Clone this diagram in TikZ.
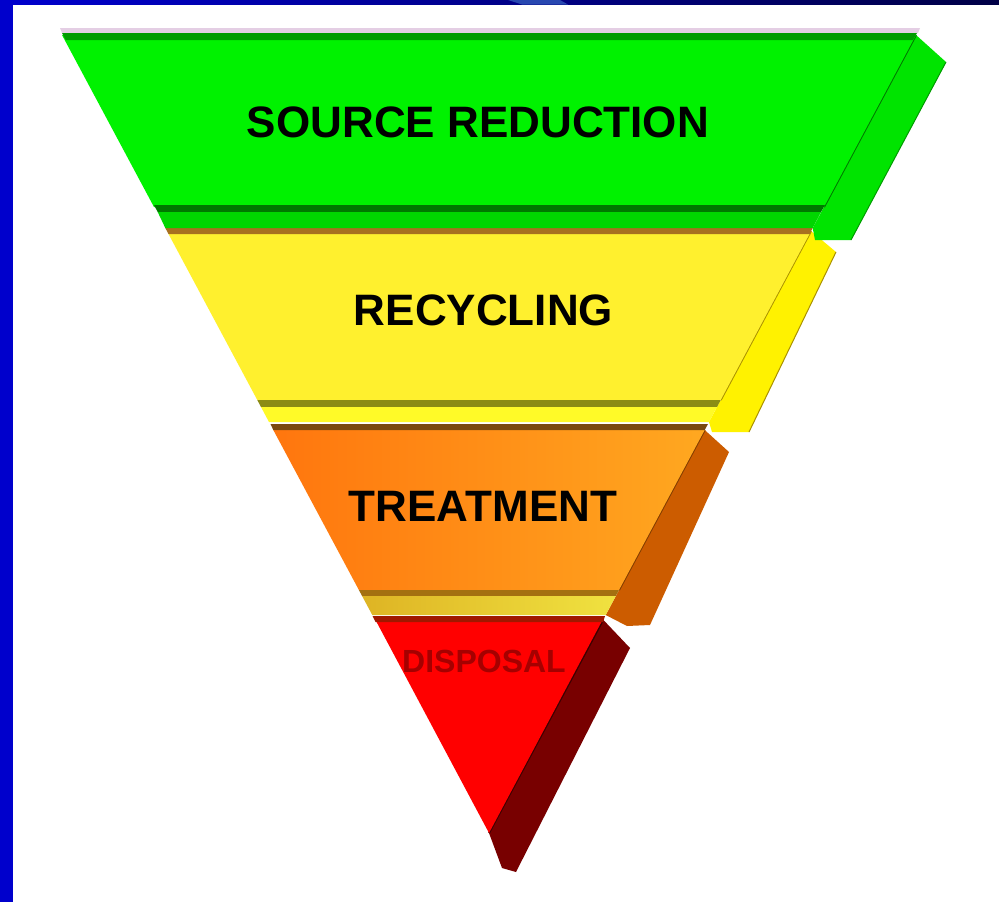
\documentclass[tikz,border=0pt]{standalone}
\usepackage{fontspec}
\setmainfont{Liberation Sans}
\begin{document}
\begin{tikzpicture}[x=1pt,y=-1pt,
  lbl/.style={inner sep=0pt,font=\fontsize{44}{50}\selectfont\bfseries,text=black},
  edge/.style={line width=2pt}]
\definecolor{bordblue}{RGB}{0,0,204}
\definecolor{navy}{RGB}{0,0,70}
\definecolor{blob}{RGB}{40,72,176}
\definecolor{gface}{RGB}{0,242,0}
\definecolor{gdark}{RGB}{0,120,0}
\definecolor{gmid}{RGB}{0,155,0}
\definecolor{gstrip}{RGB}{0,214,0}
\definecolor{gside}{RGB}{0,228,0}
\definecolor{lav}{RGB}{228,206,228}
\definecolor{yface}{RGB}{255,240,46}
\definecolor{yside}{RGB}{255,242,0}
\definecolor{ybrown}{RGB}{168,112,32}
\definecolor{yolive}{RGB}{140,140,20}
\definecolor{ystrip}{RGB}{255,250,40}
\definecolor{yedge}{RGB}{170,145,0}
\definecolor{oface1}{RGB}{255,118,14}
\definecolor{oface2}{RGB}{255,168,32}
\definecolor{oside}{RGB}{204,92,0}
\definecolor{obrown}{RGB}{122,74,16}
\definecolor{obrown2}{RGB}{164,112,16}
\definecolor{ostrip1}{RGB}{222,180,36}
\definecolor{ostrip2}{RGB}{240,226,64}
\definecolor{oedge}{RGB}{130,60,0}
\definecolor{rface}{RGB}{255,0,0}
\definecolor{rline}{RGB}{160,24,0}
\definecolor{rside}{RGB}{120,0,0}
\definecolor{redge}{RGB}{60,0,0}
\definecolor{rtext}{RGB}{165,0,0}
% canvas
\useasboundingbox (0,0) rectangle (999,902);
\fill[white] (0,0) rectangle (999,902);
\fill[bordblue] (0,0) rectangle (13,902);
\shade[left color=bordblue,right color=navy] (13,0) rectangle (999,4.5);
\fill[blob] (508,0) -- (560,0) -- (568,4.5) -- (522,4.5) -- cycle;
% ---------- DISPOSAL (red) ----------
\fill[rside] (602.5,619) -- (630,648) -- (516,872) -- (502,868) -- (489,833) -- cycle;
\draw[redge,edge] (602.5,621) -- (489,833);
\fill[rface] (375.5,620) -- (602.5,620) -- (489,833) -- cycle;
\fill[rline] (372.5,616) -- (605,616) -- (603,622) -- (375.5,622) -- cycle;
\node[inner sep=0pt,font=\fontsize{32}{36}\selectfont\bfseries,text=rtext] (disp) at (484,661) {DISPOSAL};
% ---------- TREATMENT (orange) ----------
\fill[oside] (704.7,430) -- (729,452) -- (650,625) -- (627,626) -- (605.7,615) -- cycle;
\draw[oedge,edge] (704.7,430) -- (619,590);
\shade[left color=oface1,right color=oface2] (273.3,430) -- (704.7,430) -- (619,590) -- (358.9,590) -- cycle;
\fill[obrown] (270.5,424) -- (708,424) -- (704.7,430) -- (273.3,430) -- cycle;
\fill[obrown2] (358.9,590) -- (619,590) -- (615.8,596) -- (362.1,596) -- cycle;
\shade[left color=ostrip1,right color=ostrip2] (362.1,596) -- (615.8,596) -- (605.7,615) -- (372.3,615) -- cycle;
\node[lbl] (treat) at (483,506) {TREATMENT};
% ---------- RECYCLING (yellow) ----------
\fill[yside] (811,231) -- (836,252) -- (749,432) -- (712,432) -- (709,422) -- cycle;
\draw[yedge,edge] (811,231) -- (720.7,400);
\draw[yedge,line width=1pt] (836,252) -- (749,432);
\fill[yface] (168.5,234) -- (809.5,234) -- (720.7,400) -- (257.3,400) -- cycle;
\fill[ybrown] (165.3,228) -- (812.7,228) -- (809.5,234) -- (168.5,234) -- cycle;
\fill[yolive] (257.3,400) -- (720.7,400) -- (717,407) -- (261,407) -- cycle;
\fill[ystrip] (261,407) -- (717,407) -- (709,422) -- (269,422) -- cycle;
\node[lbl] (recyc) at (483.5,310) {RECYCLING};
% ---------- SOURCE REDUCTION (green) ----------
\fill[gside] (916,35) -- (946,62) -- (851,240) -- (815,240) -- (812.7,228) -- cycle;
\draw[gdark,edge] (916,35) -- (824,207);
\draw[gmid,line width=1pt] (946,62) -- (851,240);
\fill[gface] (62,35) -- (916,35) -- (824,207) -- (154,207) -- cycle;
\fill[lav] (60,28) -- (920,28) -- (918,33) -- (62,33) -- cycle;
\fill[gmid] (62,33) -- (917,33) -- (913,40) -- (65.7,40) -- cycle;
\fill[gdark] (154,205) -- (825,205) -- (821,212) -- (157.7,212) -- cycle;
\fill[gstrip] (157.7,212) -- (821,212) -- (812.7,228) -- (165.3,228) -- cycle;
\node[lbl] (src) at (478,122) {SOURCE REDUCTION};
\end{tikzpicture}
\end{document}
